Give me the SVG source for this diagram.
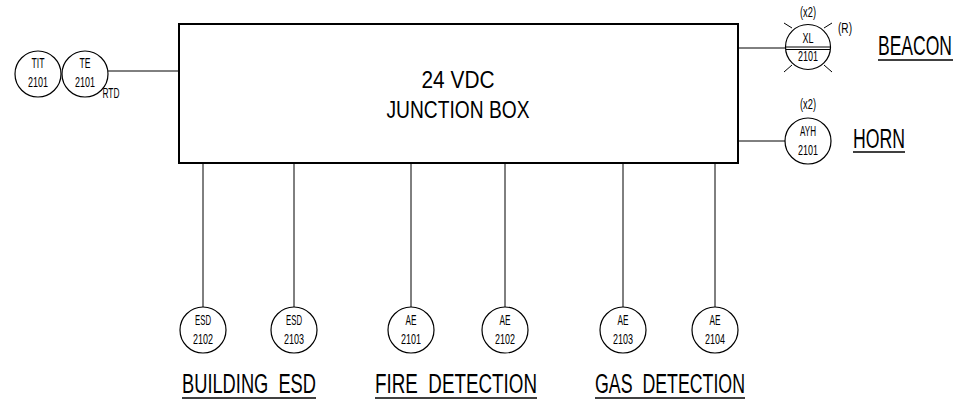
<svg xmlns="http://www.w3.org/2000/svg" width="958" height="406" viewBox="0 0 958 406">
<style>
.ln{stroke:#000;stroke-width:1;fill:none}
.c{stroke:#000;stroke-width:1.2;fill:#fff}
.t{font-family:"Liberation Sans","DejaVu Sans",sans-serif;fill:#000;text-anchor:middle}
.s{font-size:14px}
.m{font-size:24px}
.l{font-size:27px}
.u{stroke:#000;stroke-width:1.3}
</style>
<rect width="958" height="406" fill="#fff"/>
<g id="connectors">
<line class="ln" x1="108" y1="71" x2="179" y2="71"/>
<line class="ln" x1="738" y1="48" x2="786" y2="48"/>
<line class="ln" x1="738" y1="141" x2="786" y2="141"/>
<line class="ln" x1="203" y1="163" x2="203" y2="307"/>
<line class="ln" x1="294" y1="163" x2="294" y2="307"/>
<line class="ln" x1="411" y1="163" x2="411" y2="307"/>
<line class="ln" x1="505" y1="163" x2="505" y2="307"/>
<line class="ln" x1="623" y1="163" x2="623" y2="307"/>
<line class="ln" x1="715" y1="163" x2="715" y2="307"/>
</g>
<g id="jbox">
<rect x="179" y="24" width="559" height="139" fill="#fff" stroke="#000" stroke-width="2"/>
<text class="t m" x="458" y="88" textLength="73" lengthAdjust="spacingAndGlyphs">24 VDC</text>
<text class="t m" x="458" y="118" textLength="143" lengthAdjust="spacingAndGlyphs">JUNCTION BOX</text>
</g>
<g id="tit2101">
<circle class="c" cx="38" cy="74" r="23"/>
<text class="t s" x="38" y="68" textLength="13" lengthAdjust="spacingAndGlyphs">TIT</text>
<text class="t s" x="38" y="87" textLength="20" lengthAdjust="spacingAndGlyphs">2101</text>
</g>
<g id="te2101">
<circle class="c" cx="85" cy="74" r="23"/>
<text class="t s" x="85" y="68" textLength="11" lengthAdjust="spacingAndGlyphs">TE</text>
<text class="t s" x="85" y="87" textLength="20" lengthAdjust="spacingAndGlyphs">2101</text>
<text class="t s" x="111" y="98" textLength="17" lengthAdjust="spacingAndGlyphs">RTD</text>
</g>
<g id="xl2101">
<circle class="c" cx="808" cy="47" r="22.5"/>
<line class="ln" x1="786" y1="47" x2="830" y2="47"/>
<line class="ln" x1="786" y1="49.5" x2="830" y2="49.5"/>
<line class="ln" x1="792" y1="28" x2="784" y2="23"/>
<line class="ln" x1="824" y1="28" x2="832" y2="23"/>
<line class="ln" x1="792" y1="65" x2="784" y2="72"/>
<line class="ln" x1="824" y1="65" x2="832" y2="72"/>
<text class="t s" x="808" y="43" textLength="11" lengthAdjust="spacingAndGlyphs">XL</text>
<text class="t s" x="808" y="61" textLength="20" lengthAdjust="spacingAndGlyphs">2101</text>
<text class="t s" x="808" y="17" textLength="16" lengthAdjust="spacingAndGlyphs">(x2)</text>
<text class="t s" x="845" y="33" textLength="14" lengthAdjust="spacingAndGlyphs">(R)</text>
</g>
<g id="beacon">
<text class="t l" transform="translate(915,55) scale(0.65,1)" x="0" y="0">BEACON</text>
<line class="u" x1="878" y1="60" x2="953" y2="60"/>
</g>
<g id="ayh2101">
<circle class="c" cx="808" cy="141" r="23"/>
<text class="t s" x="808" y="136" textLength="16" lengthAdjust="spacingAndGlyphs">AYH</text>
<text class="t s" x="808" y="155" textLength="20" lengthAdjust="spacingAndGlyphs">2101</text>
<text class="t s" x="808" y="109" textLength="16" lengthAdjust="spacingAndGlyphs">(x2)</text>
</g>
<g id="horn">
<text class="t l" x="879" y="148" textLength="52" lengthAdjust="spacingAndGlyphs">HORN</text>
<line class="u" x1="853" y1="152" x2="905" y2="152"/>
</g>
<g id="esd2102">
<circle class="c" cx="203" cy="330" r="23"/>
<text class="t s" x="203" y="325" textLength="16" lengthAdjust="spacingAndGlyphs">ESD</text>
<text class="t s" x="203" y="344" textLength="20" lengthAdjust="spacingAndGlyphs">2102</text>
</g>
<g id="esd2103">
<circle class="c" cx="294" cy="330" r="23"/>
<text class="t s" x="294" y="325" textLength="16" lengthAdjust="spacingAndGlyphs">ESD</text>
<text class="t s" x="294" y="344" textLength="20" lengthAdjust="spacingAndGlyphs">2103</text>
</g>
<g id="ae2101">
<circle class="c" cx="411" cy="330" r="23"/>
<text class="t s" x="411" y="325" textLength="11" lengthAdjust="spacingAndGlyphs">AE</text>
<text class="t s" x="411" y="344" textLength="20" lengthAdjust="spacingAndGlyphs">2101</text>
</g>
<g id="ae2102">
<circle class="c" cx="505" cy="330" r="23"/>
<text class="t s" x="505" y="325" textLength="11" lengthAdjust="spacingAndGlyphs">AE</text>
<text class="t s" x="505" y="344" textLength="20" lengthAdjust="spacingAndGlyphs">2102</text>
</g>
<g id="ae2103">
<circle class="c" cx="623" cy="330" r="23"/>
<text class="t s" x="623" y="325" textLength="11" lengthAdjust="spacingAndGlyphs">AE</text>
<text class="t s" x="623" y="344" textLength="20" lengthAdjust="spacingAndGlyphs">2103</text>
</g>
<g id="ae2104">
<circle class="c" cx="715" cy="330" r="23"/>
<text class="t s" x="715" y="325" textLength="11" lengthAdjust="spacingAndGlyphs">AE</text>
<text class="t s" x="715" y="344" textLength="20" lengthAdjust="spacingAndGlyphs">2104</text>
</g>
<g id="labels">
<text class="t l" x="249" y="393" textLength="134" lengthAdjust="spacingAndGlyphs" xml:space="preserve">BUILDING  ESD</text>
<line class="u" x1="182" y1="398" x2="316" y2="398"/>
<text class="t l" x="456" y="393" textLength="162" lengthAdjust="spacingAndGlyphs" xml:space="preserve">FIRE  DETECTION</text>
<line class="u" x1="375" y1="398" x2="537" y2="398"/>
<text class="t l" x="670" y="393" textLength="150" lengthAdjust="spacingAndGlyphs" xml:space="preserve">GAS  DETECTION</text>
<line class="u" x1="595" y1="398" x2="745" y2="398"/>
</g>
</svg>
